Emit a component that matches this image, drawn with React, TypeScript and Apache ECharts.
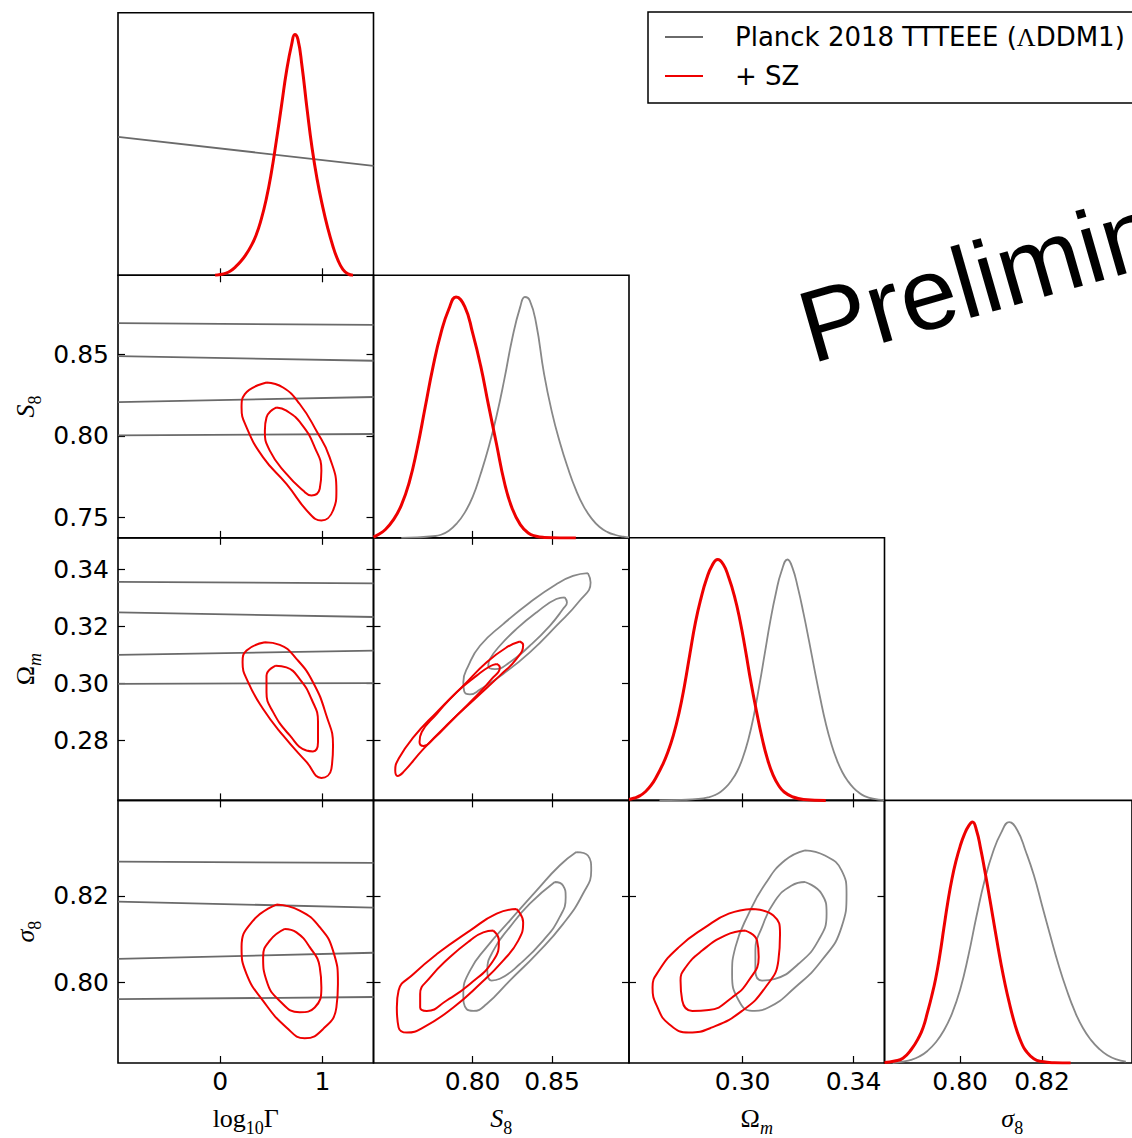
import React, { useEffect, useRef } from 'react';
import * as echarts from 'echarts';

// ---------- axes ----------
const RANGES: [number, number][] = [[-1, 1.5], [0.7375, 0.8985], [0.259, 0.3512], [0.7815, 0.842]];
const X_TICKS: number[][] = [[0, 1], [0.8, 0.85], [0.3, 0.34], [0.8, 0.82]];
const Y_TICKS: number[][] = [[], [0.75, 0.8, 0.85], [0.28, 0.3, 0.32, 0.34], [0.8, 0.82]];
const DECIMALS = [0, 2, 2, 2];
const DENSITY_MAX = 1.09;

const PLANCK = 'Planck 2018 TTTEEE (ΛDDM1)';
const SZ = '+ SZ';

// ---------- 1D marginals [value, density] ----------
const G_1D_SZ = [[-0.05, 0], [0, 0.003], [0.05, 0.008], [0.1, 0.018], [0.15, 0.035], [0.2, 0.057], [0.25, 0.085], [0.3, 0.12], [0.35, 0.165], [0.4, 0.23], [0.45, 0.315], [0.5, 0.425], [0.55, 0.56], [0.6, 0.705], [0.65, 0.85], [0.7, 0.96], [0.73, 1.0], [0.76, 0.98], [0.8, 0.87], [0.85, 0.69], [0.9, 0.525], [0.95, 0.395], [1.0, 0.29], [1.05, 0.2], [1.1, 0.125], [1.15, 0.065], [1.2, 0.025], [1.25, 0.006], [1.3, 0]];
const G_1D_PLANCK = [[-1, 0.575], [1.5, 0.454]];

const S8_1D_SZ = [[0.7375, 0.003], [0.74, 0.012], [0.745, 0.035], [0.75, 0.075], [0.755, 0.135], [0.76, 0.23], [0.765, 0.37], [0.77, 0.54], [0.775, 0.71], [0.78, 0.85], [0.785, 0.95], [0.7895, 1.0], [0.795, 0.96], [0.8, 0.85], [0.805, 0.715], [0.81, 0.55], [0.815, 0.39], [0.82, 0.23], [0.825, 0.12], [0.83, 0.055], [0.835, 0.02], [0.84, 0.007], [0.845, 0.002], [0.855, 0], [0.865, 0]];
const S8_1D_PLANCK = [[0.755, 0], [0.765, 0.002], [0.775, 0.007], [0.78, 0.013], [0.785, 0.03], [0.79, 0.06], [0.795, 0.105], [0.8, 0.17], [0.805, 0.265], [0.81, 0.375], [0.815, 0.505], [0.82, 0.66], [0.825, 0.83], [0.83, 0.96], [0.8329, 1.0], [0.836, 0.985], [0.84, 0.89], [0.845, 0.68], [0.85, 0.52], [0.855, 0.395], [0.86, 0.29], [0.865, 0.2], [0.87, 0.13], [0.875, 0.08], [0.88, 0.045], [0.885, 0.024], [0.89, 0.012], [0.895, 0.005], [0.8985, 0.002]];

const OM_1D_SZ = [[0.259, 0.004], [0.261, 0.01], [0.263, 0.02], [0.265, 0.037], [0.267, 0.063], [0.269, 0.1], [0.271, 0.145], [0.273, 0.2], [0.275, 0.27], [0.277, 0.36], [0.279, 0.475], [0.281, 0.61], [0.283, 0.74], [0.285, 0.84], [0.287, 0.92], [0.289, 0.975], [0.291, 1.0], [0.293, 0.98], [0.295, 0.925], [0.297, 0.85], [0.299, 0.75], [0.301, 0.625], [0.303, 0.49], [0.305, 0.37], [0.307, 0.26], [0.309, 0.17], [0.311, 0.105], [0.313, 0.062], [0.315, 0.035], [0.318, 0.015], [0.322, 0.004], [0.33, 0]];
const OM_1D_PLANCK = [[0.27, 0], [0.278, 0.002], [0.284, 0.006], [0.288, 0.014], [0.29, 0.022], [0.292, 0.035], [0.294, 0.055], [0.296, 0.083], [0.298, 0.12], [0.3, 0.175], [0.302, 0.25], [0.304, 0.35], [0.306, 0.475], [0.308, 0.61], [0.31, 0.745], [0.312, 0.86], [0.314, 0.95], [0.3162, 1.0], [0.318, 0.965], [0.32, 0.88], [0.322, 0.775], [0.324, 0.66], [0.326, 0.54], [0.328, 0.425], [0.33, 0.32], [0.332, 0.235], [0.334, 0.168], [0.336, 0.117], [0.338, 0.08], [0.34, 0.052], [0.342, 0.032], [0.344, 0.018], [0.347, 0.007], [0.351, 0.001]];

const SIG_1D_SZ = [[0.7815, 0.002], [0.784, 0.008], [0.786, 0.02], [0.788, 0.055], [0.79, 0.11], [0.791, 0.15], [0.792, 0.21], [0.793, 0.275], [0.794, 0.35], [0.795, 0.445], [0.796, 0.559], [0.797, 0.67], [0.798, 0.765], [0.799, 0.84], [0.8, 0.9], [0.801, 0.948], [0.802, 0.982], [0.803, 1.0], [0.804, 0.965], [0.805, 0.89], [0.806, 0.8], [0.807, 0.705], [0.808, 0.605], [0.809, 0.505], [0.81, 0.41], [0.811, 0.325], [0.812, 0.25], [0.813, 0.183], [0.814, 0.127], [0.815, 0.083], [0.816, 0.052], [0.818, 0.018], [0.82, 0.006], [0.823, 0.001], [0.827, 0]];
const SIG_1D_PLANCK = [[0.7835, 0], [0.786, 0.006], [0.788, 0.013], [0.79, 0.027], [0.792, 0.05], [0.794, 0.085], [0.796, 0.135], [0.798, 0.205], [0.8, 0.305], [0.802, 0.445], [0.804, 0.61], [0.806, 0.76], [0.808, 0.875], [0.81, 0.955], [0.812, 1.0], [0.814, 0.965], [0.816, 0.88], [0.818, 0.78], [0.82, 0.655], [0.822, 0.53], [0.824, 0.41], [0.826, 0.305], [0.828, 0.215], [0.83, 0.145], [0.832, 0.095], [0.834, 0.058], [0.836, 0.032], [0.838, 0.016], [0.8405, 0.006]];

// ---------- 2D contours [x, y] ----------
// S8 vs log10Gamma
const S8_G_PLANCK_LINES = [[[-1, 0.8692], [1.5, 0.8681]], [[-1, 0.849], [1.5, 0.8461]], [[-1, 0.8208], [1.5, 0.8239]], [[-1, 0.8004], [1.5, 0.8012]]];
const S8_G_SZ_OUTER = [[0.453, 0.8328], [0.615, 0.8297], [0.778, 0.8196], [0.941, 0.8032], [1.071, 0.7869], [1.137, 0.7665], [1.104, 0.7543], [0.99, 0.7482], [0.876, 0.7523], [0.648, 0.7706], [0.42, 0.7869], [0.258, 0.8053], [0.209, 0.8175], [0.241, 0.8257]];
const S8_G_SZ_INNER = [[0.551, 0.8175], [0.648, 0.8155], [0.795, 0.8073], [0.925, 0.793], [0.99, 0.7788], [0.974, 0.7676], [0.893, 0.7635], [0.811, 0.7665], [0.648, 0.7767], [0.485, 0.791], [0.437, 0.8032], [0.453, 0.8114]];

// Omega_m vs log10Gamma
const OM_G_PLANCK_LINES = [[[-1, 0.3357], [1.5, 0.3352]], [[-1, 0.325], [1.5, 0.3234]], [[-1, 0.3101], [1.5, 0.3116]], [[-1, 0.2999], [1.5, 0.3002]]];
const OM_G_SZ_OUTER = [[0.437, 0.3145], [0.583, 0.3136], [0.746, 0.3087], [0.908, 0.3005], [1.039, 0.2888], [1.104, 0.2783], [1.088, 0.2701], [0.99, 0.2669], [0.844, 0.2725], [0.615, 0.2818], [0.42, 0.2911], [0.273, 0.3005], [0.219, 0.3075], [0.258, 0.3116]];
const OM_G_SZ_INNER = [[0.544, 0.3063], [0.648, 0.3057], [0.778, 0.3016], [0.893, 0.2946], [0.957, 0.2865], [0.957, 0.2795], [0.908, 0.2762], [0.844, 0.2765], [0.681, 0.2818], [0.518, 0.29], [0.453, 0.297], [0.453, 0.3028]];

// sigma8 vs log10Gamma
const SIG_G_PLANCK_LINES = [[[-1, 0.8279], [1.5, 0.8276]], [[-1, 0.8187], [1.5, 0.8173]], [[-1, 0.8055], [1.5, 0.8069]], [[-1, 0.7962], [1.5, 0.7967]]];
const SIG_G_SZ_OUTER = [[0.551, 0.818], [0.778, 0.8166], [0.974, 0.8128], [1.104, 0.8074], [1.152, 0.7997], [1.137, 0.7943], [1.006, 0.7893], [0.827, 0.7872], [0.648, 0.7897], [0.42, 0.7958], [0.258, 0.802], [0.209, 0.8082], [0.322, 0.8143]];
const SIG_G_SZ_INNER = [[0.632, 0.8124], [0.746, 0.8116], [0.876, 0.8082], [0.974, 0.8036], [0.99, 0.7989], [0.925, 0.7943], [0.778, 0.7932], [0.583, 0.7958], [0.453, 0.8005], [0.42, 0.8059], [0.485, 0.8097]];

// Omega_m vs S8
const OM_S8_PLANCK_OUTER = [[0.8726, 0.3388], [0.8743, 0.3355], [0.8674, 0.3291], [0.8527, 0.3203], [0.836, 0.311], [0.8192, 0.3034], [0.8046, 0.2979], [0.7983, 0.2962], [0.7947, 0.2972], [0.7941, 0.3005], [0.7973, 0.3063], [0.8046, 0.3133], [0.8192, 0.3209], [0.836, 0.3285], [0.8527, 0.3349], [0.8632, 0.3378]];
const OM_S8_PLANCK_INNER = [[0.858, 0.3303], [0.8594, 0.3285], [0.8569, 0.3262], [0.8486, 0.3203], [0.836, 0.3133], [0.8234, 0.3075], [0.814, 0.3051], [0.8098, 0.3063], [0.8109, 0.3087], [0.8171, 0.3133], [0.8276, 0.3192], [0.8402, 0.325], [0.8527, 0.3297]];
const OM_S8_SZ_OUTER = [[0.8297, 0.3148], [0.8318, 0.3136], [0.8276, 0.3087], [0.8171, 0.3028], [0.8025, 0.2952], [0.7857, 0.2865], [0.769, 0.2771], [0.7564, 0.269], [0.7527, 0.2676], [0.7512, 0.2695], [0.7533, 0.2736], [0.7627, 0.2812], [0.7774, 0.29], [0.7941, 0.2993], [0.8088, 0.3075], [0.8213, 0.3127]];
const OM_S8_SZ_INNER = [[0.8151, 0.3069], [0.8171, 0.3057], [0.8119, 0.3016], [0.8004, 0.2946], [0.7878, 0.2876], [0.7753, 0.2806], [0.769, 0.2781], [0.7665, 0.2795], [0.7679, 0.283], [0.7774, 0.2894], [0.7899, 0.297], [0.8025, 0.3028], [0.8109, 0.3061]];

// sigma8 vs S8
const SIG_S8_PLANCK_OUTER = [[0.8653, 0.8301], [0.8726, 0.8293], [0.8747, 0.8259], [0.8695, 0.8205], [0.8569, 0.8135], [0.8402, 0.8066], [0.8234, 0.8005], [0.8088, 0.7951], [0.8004, 0.7935], [0.7962, 0.7939], [0.7941, 0.7974], [0.7983, 0.8028], [0.8088, 0.8082], [0.8234, 0.8143], [0.8402, 0.8212], [0.8548, 0.827]];
const SIG_S8_PLANCK_INNER = [[0.8517, 0.8232], [0.8569, 0.8224], [0.8586, 0.8197], [0.8548, 0.8151], [0.8444, 0.8097], [0.8297, 0.8043], [0.8171, 0.8009], [0.8119, 0.8005], [0.8092, 0.8028], [0.813, 0.8074], [0.8234, 0.8128], [0.836, 0.8182]];
const SIG_S8_SZ_OUTER = [[0.8276, 0.817], [0.8318, 0.8139], [0.8287, 0.8097], [0.8192, 0.8051], [0.8046, 0.7997], [0.7878, 0.7943], [0.769, 0.7897], [0.7585, 0.7885], [0.7533, 0.7897], [0.7522, 0.7943], [0.7533, 0.7982], [0.7627, 0.802], [0.7774, 0.8066], [0.7983, 0.812], [0.8151, 0.8159]];
const SIG_S8_SZ_INNER = [[0.813, 0.812], [0.8165, 0.8097], [0.813, 0.8051], [0.7983, 0.7997], [0.7836, 0.7959], [0.7711, 0.7935], [0.7669, 0.7943], [0.7669, 0.7974], [0.7732, 0.8012], [0.7857, 0.8059], [0.7983, 0.8097], [0.8067, 0.8116]];

// sigma8 vs Omega_m
const SIG_OM_PLANCK_OUTER = [[0.3225, 0.8305], [0.3297, 0.8293], [0.3357, 0.8259], [0.3375, 0.8205], [0.3357, 0.8128], [0.3285, 0.8051], [0.3189, 0.7989], [0.3093, 0.7943], [0.3034, 0.7935], [0.2986, 0.7959], [0.2962, 0.802], [0.2974, 0.8082], [0.3022, 0.8159], [0.3082, 0.8228], [0.3153, 0.8282]];
const SIG_OM_PLANCK_INNER = [[0.3225, 0.8232], [0.3285, 0.8205], [0.3303, 0.8159], [0.3273, 0.8097], [0.3201, 0.8043], [0.3117, 0.8009], [0.307, 0.8005], [0.3046, 0.8028], [0.3046, 0.8074], [0.307, 0.8128], [0.3117, 0.8189], [0.3177, 0.8224]];
const SIG_OM_SZ_OUTER = [[0.3034, 0.817], [0.3111, 0.8155], [0.3135, 0.8112], [0.3129, 0.8051], [0.3082, 0.7989], [0.2998, 0.7935], [0.289, 0.7897], [0.2806, 0.7885], [0.2734, 0.7905], [0.2693, 0.7943], [0.2675, 0.7989], [0.2698, 0.8028], [0.277, 0.8082], [0.2866, 0.8128], [0.295, 0.8159]];
const SIG_OM_SZ_INNER = [[0.301, 0.812], [0.3052, 0.8097], [0.3058, 0.8059], [0.3022, 0.8005], [0.2962, 0.7966], [0.2878, 0.7937], [0.2818, 0.7935], [0.2782, 0.7959], [0.2776, 0.8005], [0.2794, 0.8035], [0.2854, 0.8074], [0.2938, 0.8109]];

// ---------- layout / style ----------
const COL_LEFT = [118, 373.5, 629, 884.5];
const ROW_TOP = [12.7, 275.3, 537.8, 800.4];
const PW = 255.5;
const PH = 262.6;
const RED = '#ee0000';
const GRAY = '#888888';
const GRAY_DARK = '#6a6a6a';
const TICK_FONT = 'DejaVu Sans';
const MATH_FONT = 'Liberation Serif';

type Curve = { pts: number[][]; closed: boolean; smooth: number | false };
type PanelDef = { r: number; c: number; planck: Curve[]; sz: Curve[] };

const loop = (pts: number[][]): Curve => ({ pts, closed: true, smooth: 0.5 });
const open = (pts: number[][]): Curve => ({ pts, closed: false, smooth: 0.5 });
const straight = (pts: number[][]): Curve => ({ pts, closed: false, smooth: false });

const PANEL_DEFS: PanelDef[] = [
  { r: 0, c: 0, planck: [straight(G_1D_PLANCK)], sz: [open(G_1D_SZ)] },
  { r: 1, c: 0, planck: S8_G_PLANCK_LINES.map(straight), sz: [loop(S8_G_SZ_OUTER), loop(S8_G_SZ_INNER)] },
  { r: 1, c: 1, planck: [open(S8_1D_PLANCK)], sz: [open(S8_1D_SZ)] },
  { r: 2, c: 0, planck: OM_G_PLANCK_LINES.map(straight), sz: [loop(OM_G_SZ_OUTER), loop(OM_G_SZ_INNER)] },
  { r: 2, c: 1, planck: [loop(OM_S8_PLANCK_OUTER), loop(OM_S8_PLANCK_INNER)], sz: [loop(OM_S8_SZ_OUTER), loop(OM_S8_SZ_INNER)] },
  { r: 2, c: 2, planck: [open(OM_1D_PLANCK)], sz: [open(OM_1D_SZ)] },
  { r: 3, c: 0, planck: SIG_G_PLANCK_LINES.map(straight), sz: [loop(SIG_G_SZ_OUTER), loop(SIG_G_SZ_INNER)] },
  { r: 3, c: 1, planck: [loop(SIG_S8_PLANCK_OUTER), loop(SIG_S8_PLANCK_INNER)], sz: [loop(SIG_S8_SZ_OUTER), loop(SIG_S8_SZ_INNER)] },
  { r: 3, c: 2, planck: [loop(SIG_OM_PLANCK_OUTER), loop(SIG_OM_PLANCK_INNER)], sz: [loop(SIG_OM_SZ_OUTER), loop(SIG_OM_SZ_INNER)] },
  { r: 3, c: 3, planck: [open(SIG_1D_PLANCK)], sz: [open(SIG_1D_SZ)] },
];

const mathRich = {
  n: { fontFamily: MATH_FONT, fontSize: 26, color: '#000', padding: [0, 0, 5, 0], verticalAlign: 'bottom' },
  i: { fontFamily: MATH_FONT, fontSize: 26, fontStyle: 'italic', color: '#000', padding: [0, 0, 5, 0], verticalAlign: 'bottom' },
  s: { fontFamily: MATH_FONT, fontSize: 18, color: '#000', verticalAlign: 'bottom' },
  si: { fontFamily: MATH_FONT, fontSize: 18, fontStyle: 'italic', color: '#000', verticalAlign: 'bottom' },
};
const AXIS_TITLES = ['{n|log}{s|10}{n|Γ}', '{i|S}{s|8}', '{n|Ω}{si|m}', '{i|σ}{s|8}'];

function buildOption() {
  const grid: any[] = [];
  const xAxis: any[] = [];
  const yAxis: any[] = [];
  const series: any[] = [];
  const tickStyle = { color: '#000', width: 1.2 };
  const noLine = { show: false, onZero: false };

  PANEL_DEFS.forEach((p, k) => {
    const diag = p.r === p.c;
    grid.push({ left: COL_LEFT[p.c], top: ROW_TOP[p.r], width: PW, height: PH, show: true, borderColor: '#000', borderWidth: 1.6, backgroundColor: 'transparent' });
    const xr = RANGES[p.c];
    const yr = diag ? [0, DENSITY_MAX] : RANGES[p.r];
    const dx = DECIMALS[p.c];
    const dy = DECIMALS[p.r];
    xAxis.push({
      type: 'value', gridIndex: k, position: 'bottom', min: xr[0], max: xr[1],
      axisLine: noLine, splitLine: { show: false },
      axisTick: { show: true, inside: true, length: 7, customValues: X_TICKS[p.c], lineStyle: tickStyle },
      axisLabel: { show: p.r === 3, customValues: X_TICKS[p.c], formatter: (v: number) => v.toFixed(dx), fontSize: 25, fontFamily: TICK_FONT, color: '#000', margin: 6 },
    });
    xAxis.push({
      type: 'value', gridIndex: k, position: 'top', min: xr[0], max: xr[1],
      axisLine: noLine, splitLine: { show: false },
      axisTick: { show: !diag, inside: true, length: 7, customValues: X_TICKS[p.c], lineStyle: tickStyle },
      axisLabel: { show: false },
    });
    const yt = diag ? [] : Y_TICKS[p.r];
    yAxis.push({
      type: 'value', gridIndex: k, position: 'left', min: yr[0], max: yr[1],
      axisLine: noLine, splitLine: { show: false },
      axisTick: { show: !diag, inside: true, length: 7, customValues: yt, lineStyle: tickStyle },
      axisLabel: { show: !diag && p.c === 0, customValues: yt, formatter: (v: number) => v.toFixed(dy), fontSize: 25, fontFamily: TICK_FONT, color: '#000', margin: 9 },
    });
    yAxis.push({
      type: 'value', gridIndex: k, position: 'right', min: yr[0], max: yr[1],
      axisLine: noLine, splitLine: { show: false },
      axisTick: { show: !diag, inside: true, length: 7, customValues: yt, lineStyle: tickStyle },
      axisLabel: { show: false },
    });

    const addCurve = (cv: Curve, name: string, color: string, width: number) => {
      const data = cv.closed ? [...cv.pts, cv.pts[0]] : cv.pts;
      series.push({
        type: 'line', name, xAxisIndex: 2 * k, yAxisIndex: 2 * k, data,
        showSymbol: false, symbol: 'none', smooth: cv.smooth, clip: true,
        lineStyle: { color, width }, itemStyle: { color }, silent: true, z: name === SZ ? 3 : 2,
      });
    };
    p.planck.forEach((cv) => addCurve(cv, PLANCK, cv.smooth === false ? GRAY_DARK : GRAY, 1.8));
    p.sz.forEach((cv) => addCurve(cv, SZ, RED, diag ? 3 : 2));
  });

  const graphic: any[] = [];
  AXIS_TITLES.forEach((t, c) => {
    graphic.push({
      type: 'text', x: COL_LEFT[c] + PW / 2, y: 1121,
      style: { text: t, rich: mathRich, align: 'center', verticalAlign: 'middle' },
    });
    if (c > 0) {
      graphic.push({
        type: 'text', x: 28, y: ROW_TOP[c] + PH / 2, rotation: Math.PI / 2,
        style: { text: t, rich: mathRich, align: 'center', verticalAlign: 'middle' },
      });
    }
  });
  graphic.push({
    type: 'text', x: 802, y: 330, rotation: (16 * Math.PI) / 180,
    style: { text: 'Preliminary', fontFamily: 'Liberation Sans', fontSize: 102, fill: '#000', align: 'left', verticalAlign: 'middle' },
  });

  return {
    animation: false,
    backgroundColor: '#fff',
    grid, xAxis, yAxis, series, graphic,
    legend: {
      data: [PLANCK, SZ], left: 648, top: 12, orient: 'vertical', icon: 'rect', itemWidth: 38, itemHeight: 2, itemGap: 13,
      padding: [12, 20, 14, 17], borderColor: '#000', borderWidth: 1.5, borderRadius: 0, selectedMode: false,
      formatter: (name: string) => (name === PLANCK ? 'Planck 2018 TTTEEE ({g|Λ}DDM1)' : name),
      textStyle: {
        fontSize: 26, fontFamily: TICK_FONT, color: '#000', padding: [0, 0, 0, 27],
        rich: { g: { fontFamily: MATH_FONT, fontSize: 26, color: '#000' } },
      },
    },
  };
}

export default function App() {
  const ref = useRef<HTMLDivElement>(null);
  useEffect(() => {
    if (!ref.current) return;
    const chart = echarts.init(ref.current, undefined, { renderer: 'svg' });
    chart.setOption(buildOption() as any);
    return () => chart.dispose();
  }, []);
  return <div ref={ref} style={{ position: 'fixed', left: 0, top: 0, width: 1132, height: 1138, background: '#fff' }} />;
}
